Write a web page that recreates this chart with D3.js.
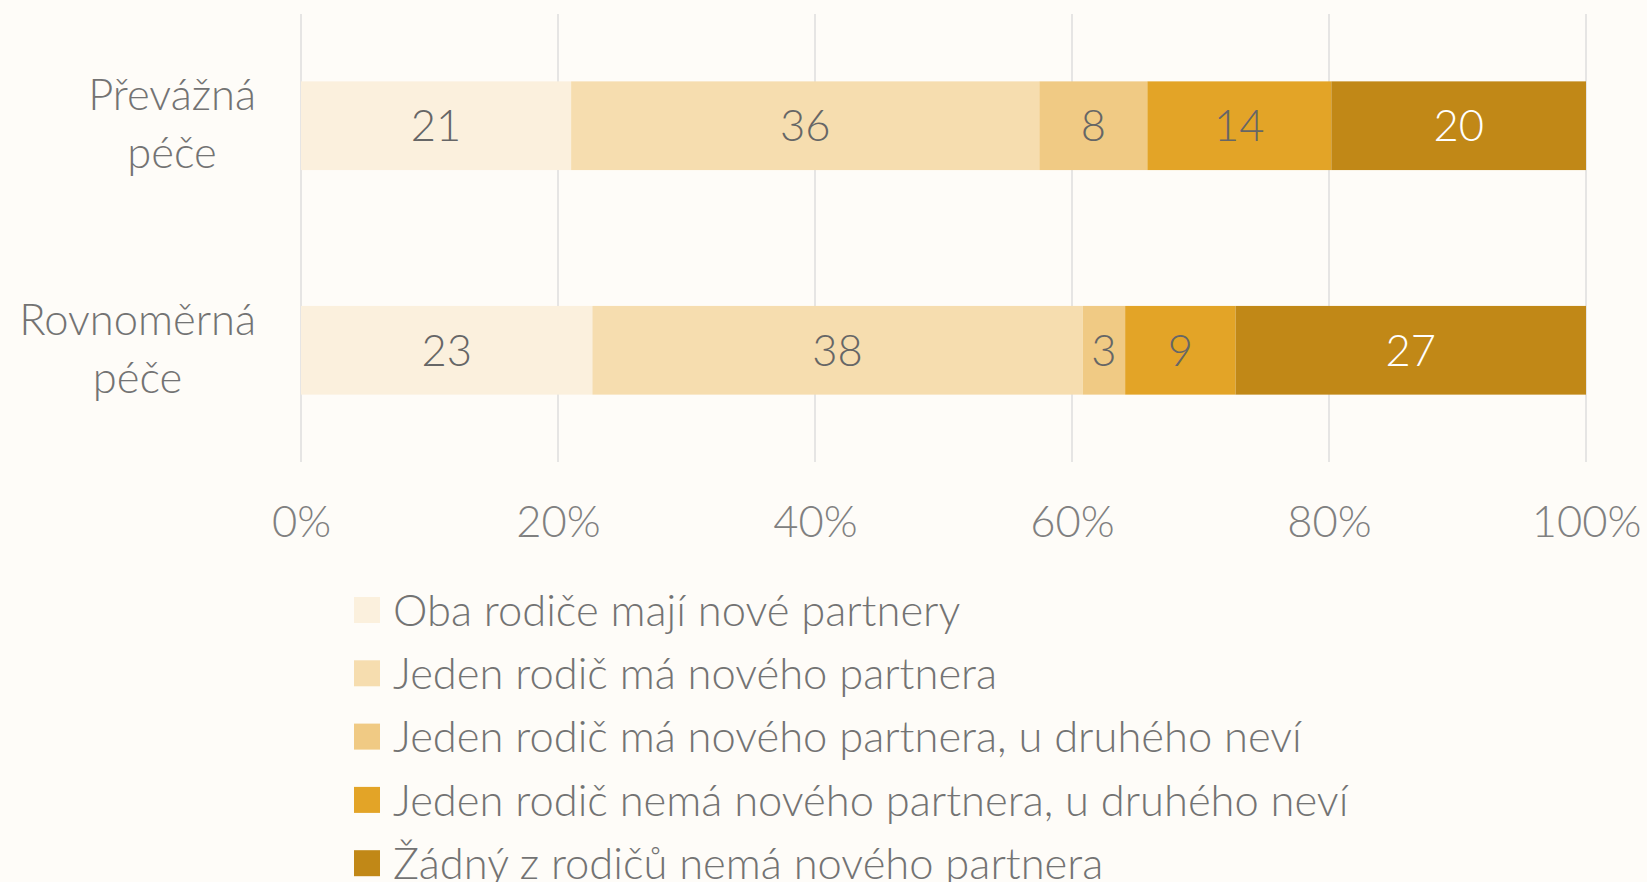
<!DOCTYPE html>
<html>
<head>
<meta charset="utf-8">
<script src="https://cdn.jsdelivr.net/npm/d3@7"></script>
<style>
  body { margin: 0; background: #fefcf8; }
  svg { display: block; font-family: Lato, "Open Sans", sans-serif; font-weight: 300; }
</style>
</head>
<body>
<div id="chart"></div>
<script>
// categories (rows), each label split into lines
var categories = ["Převážná péče", "Rovnoměrná péče"];
var categoryLines = [["Převážná", "péče"], ["Rovnoměrná", "péče"]];

// series names (legend) and colours
var series = [
    "Oba rodiče mají nové partnery",
    "Jeden rodič má nového partnera",
    "Jeden rodič má nového partnera, u druhého neví",
    "Jeden rodič nemá nového partnera, u druhého neví",
    "Žádný z rodičů nemá nového partnera"
];
var colors = ["#fbf0dd", "#f6ddaf", "#f0ca84", "#e3a427", "#c18817"];

// values per category, in the series order (percent)
var valuesPrevazna = [21.0, 36.4, 8.4, 14.3, 19.8];
var valuesRovnomerna = [22.7, 38.2, 3.3, 8.6, 27.3];

var tickValues = [0, 0.2, 0.4, 0.6, 0.8, 1];

function init() {
    var w = 1647, h = 882;
    var margin = { top: 14, right: 61, bottom: 420, left: 301 };
    var fontSize = "43.5px";
    var textColor = "#737373";

    var svg = d3.select("#chart").append("svg")
        .attr("width", w)
        .attr("height", h);

    var data = [valuesPrevazna, valuesRovnomerna].map(function (vals, i) {
        var row = { category: categories[i] };
        series.forEach(function (s, j) { row[s] = vals[j]; });
        return row;
    });

    var stack = d3.stack()
        .keys(series)
        .offset(d3.stackOffsetExpand);
    var stacked = stack(data);

    var x = d3.scaleLinear()
        .domain([0, 1])
        .range([margin.left, w - margin.right]);

    var y = d3.scaleBand()
        .domain(categories)
        .range([margin.top, h - margin.bottom])
        .paddingInner(0.605)
        .paddingOuter(0.3);

    // grid lines
    svg.append("g")
        .selectAll("line")
        .data(tickValues)
        .join("line")
        .attr("x1", d => x(d))
        .attr("x2", d => x(d))
        .attr("y1", margin.top)
        .attr("y2", h - margin.bottom)
        .attr("stroke", "#dedede")
        .attr("stroke-width", 1.5);

    // x axis labels
    var xAxis = d3.axisBottom(x)
        .tickValues(tickValues)
        .tickFormat(d3.format(".0%"))
        .tickSize(0)
        .tickPadding(0);

    var axisG = svg.append("g")
        .attr("transform", "translate(0," + (h - margin.bottom + 44) + ")")
        .call(xAxis)
        .attr("font-family", null)
        .attr("font-size", null);
    axisG.select(".domain").remove();
    axisG.selectAll("text")
        .attr("fill", "#808080")
        .style("font-size", fontSize)
        .attr("dy", "0.72em");

    // bars
    var layers = svg.append("g")
        .selectAll("g")
        .data(stacked)
        .join("g")
        .attr("fill", (d, i) => colors[i]);

    layers.selectAll("rect")
        .data(d => d)
        .join("rect")
        .attr("x", d => x(d[0]))
        .attr("width", d => x(d[1]) - x(d[0]))
        .attr("y", d => y(d.data.category))
        .attr("height", y.bandwidth());

    // value labels
    var fmt = d3.format(".0f");
    stacked.forEach(function (layer, i) {
        svg.append("g")
            .selectAll("text")
            .data(layer)
            .join("text")
            .attr("x", d => (x(d[0]) + x(d[1])) / 2)
            .attr("y", d => y(d.data.category) + y.bandwidth() / 2)
            .attr("dy", "0.36em")
            .attr("text-anchor", "middle")
            .attr("fill", i === series.length - 1 ? "#ffffff" : "#666666")
            .style("font-size", fontSize)
            .text(d => fmt(d.data[layer.key]));
    });

    // category labels: centred block, right-aligned to the plot
    categories.forEach(function (c, i) {
        var g = svg.append("g");
        var lines = categoryLines[i];
        var lh = 58;
        var cy = y(c) + y.bandwidth() / 2 - 2;
        var texts = g.selectAll("text")
            .data(lines)
            .join("text")
            .attr("y", (d, k) => cy + (k - (lines.length - 1) / 2) * lh)
            .attr("dy", "0.36em")
            .attr("text-anchor", "middle")
            .attr("fill", textColor)
            .style("font-size", fontSize)
            .text(d => d);
        var maxW = d3.max(texts.nodes(), n => n.getComputedTextLength());
        texts.attr("x", margin.left - 45 - maxW / 2);
    });

    // legend
    var legend = svg.append("g")
        .attr("transform", "translate(354,610)");

    var items = legend.selectAll("g")
        .data(series)
        .join("g")
        .attr("transform", (d, i) => "translate(0," + i * 63.3 + ")");

    items.append("rect")
        .attr("x", 0)
        .attr("y", -13)
        .attr("width", 26)
        .attr("height", 26)
        .attr("fill", (d, i) => colors[i]);

    items.append("text")
        .attr("x", 39)
        .attr("y", 0)
        .attr("dy", "0.36em")
        .attr("fill", textColor)
        .style("font-size", fontSize)
        .text(d => d);
}

window.onload = init;
</script>
</body>
</html>
